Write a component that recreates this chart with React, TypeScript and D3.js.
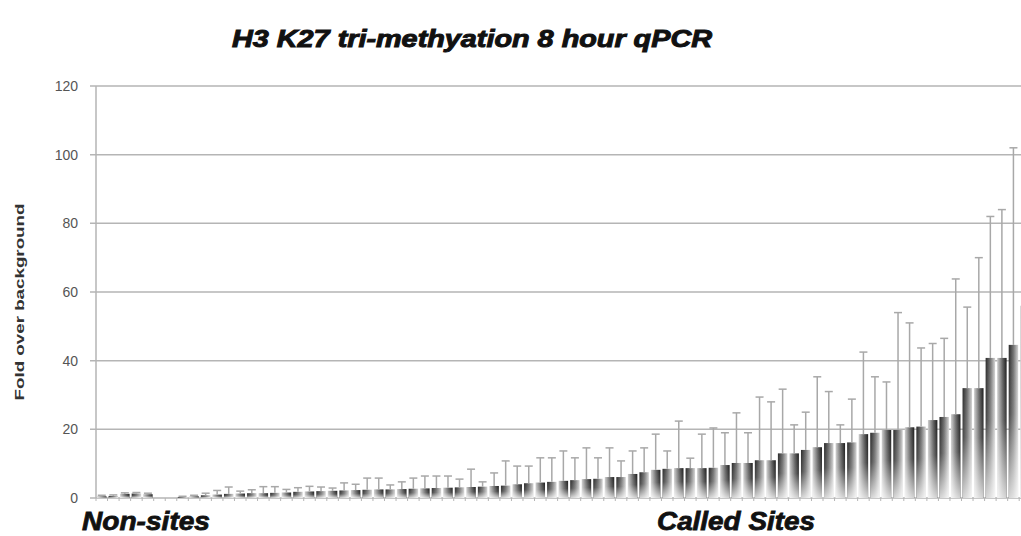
import React from "react";
import * as d3 from "d3";

const title = "H3 K27 tri-methyation 8 hour qPCR";
const yAxisTitle = "Fold over background";
const groupLabels = ["Non-sites", "Called Sites"];
const yTicks = [0, 20, 40, 60, 80, 100, 120];

const nonSiteValues = [0.5, 0.6, 1.2, 1.3, 1.1];
const nonSiteErrors = [0.3, 0.3, 0.3, 0.3, 0.3];
const gapSlots = 2;

const calledValues = [
  0.3, 0.5, 0.8, 1.0, 1.2, 1.3, 1.4, 1.4, 1.5, 1.6,
  1.8, 1.9, 2.0, 2.1, 2.2, 2.3, 2.4, 2.5, 2.5, 2.6,
  2.7, 2.8, 2.9, 3.0, 3.1, 3.2, 3.3, 3.5, 3.6, 4.0,
  4.3, 4.5, 4.7, 5.0, 5.2, 5.5, 5.6, 6.1, 6.1, 7.0,
  7.5, 8.2, 8.5, 8.7, 8.7, 8.7, 8.8, 9.6, 10.2, 10.2,
  11, 11, 13, 13, 14, 14.8, 16, 16, 16.2, 18.6,
  19, 19.8, 19.8, 20.6, 20.8, 22.7, 23.6, 24.4, 32, 32,
  40.8, 40.8, 44.6, 56,
];
const calledErrors = [
  0.2, 0.3, 0.6, 1.2, 2.0, 0.7, 1.0, 1.9, 1.8, 0.9,
  1.2, 1.5, 1.2, 0.8, 2.2, 1.7, 3.4, 3.3, 1.3, 2.1,
  3.1, 3.6, 3.5, 3.4, 2.4, 5.2, 1.4, 3.8, 7.2, 5.3,
  5.0, 7.2, 7.0, 8.7, 6.5, 9.1, 6.1, 8.5, 4.7, 6.7,
  7.1, 10.4, 5.2, 13.7, 2.9, 9.9, 11.6, 9.4, 14.6, 8.8,
  18.4, 17.0, 18.7, 8.3, 11.0, 20.5, 15.0, 5.3, 12.6, 23.9,
  16.3, 14.0, 34.2, 30.4, 22.9, 22.3, 22.9, 39.4, 23.6, 38.0,
  41.2, 43.2, 57.4, 24.0,
];

const W = 1021;
const H = 536;
const left = 96;
const pitch = 11.54;
const top = 86;
const bottom = 498;

export default function App() {
  const slots: { v: number; e: number; idx: number }[] = [];
  nonSiteValues.forEach((v, i) => slots.push({ v, e: nonSiteErrors[i], idx: i }));
  calledValues.forEach((v, i) =>
    slots.push({ v, e: calledErrors[i], idx: nonSiteValues.length + gapSlots + i })
  );
  const nSlots = nonSiteValues.length + gapSlots + calledValues.length;

  const x = d3
    .scaleBand<number>()
    .domain(d3.range(nSlots))
    .range([left, left + nSlots * pitch])
    .paddingInner(0.18)
    .paddingOuter(0.09);
  const y = d3.scaleLinear().domain([0, 120]).range([bottom, top]);

  const bw = x.bandwidth();
  const gridColor = "#b5b5b5";

  return (
    <svg
      width={W}
      height={H}
      style={{ position: "absolute", left: 0, top: 0, background: "#fff", overflow: "hidden" }}
      fontFamily="Liberation Sans, Arial, sans-serif"
    >
      <defs>
        <linearGradient id="gA" x1="0" y1="0" x2="1" y2="0">
          <stop offset="0" stopColor="#d0d0d0" />
          <stop offset="0.55" stopColor="#666" />
          <stop offset="1" stopColor="#1c1c1c" />
        </linearGradient>
        <linearGradient id="gB" x1="0" y1="0" x2="1" y2="0">
          <stop offset="0" stopColor="#2a2a2a" />
          <stop offset="0.5" stopColor="#727272" />
          <stop offset="1" stopColor="#d4d4d4" />
        </linearGradient>
        <linearGradient id="fade" x1="0" y1="0" x2="0" y2="1">
          <stop offset="0" stopColor="#fff" stopOpacity="0" />
          <stop offset="0.45" stopColor="#fff" stopOpacity="0.12" />
          <stop offset="1" stopColor="#fff" stopOpacity="0.8" />
        </linearGradient>
        <clipPath id="clip">
          <rect x={0} y={0} width={W} height={H} />
        </clipPath>
      </defs>
      <rect x={0} y={0} width={W} height={H} fill="#fff" />

      <text
        x={472}
        y={47}
        textAnchor="middle"
        fontSize={24}
        fontWeight="bold"
        fontStyle="italic"
        fill="#111"
        stroke="#111"
        strokeWidth={1}
        textLength={480}
        lengthAdjust="spacingAndGlyphs"
      >
        {title}
      </text>

      {yTicks.map((t) => (
        <g key={t}>
          <line
            x1={left - 6}
            x2={W}
            y1={y(t)}
            y2={y(t)}
            stroke={gridColor}
            strokeWidth={1.5}
          />
          <text x={78} y={y(t) + 5} textAnchor="end" fontSize={14} fill="#555">
            {t}
          </text>
        </g>
      ))}
      <line x1={left} x2={left} y1={top} y2={bottom} stroke={gridColor} strokeWidth={1.5} />

      {d3.range(nSlots + 1).map((i) => (
        <line
          key={"ct" + i}
          x1={left + i * pitch}
          x2={left + i * pitch}
          y1={bottom}
          y2={bottom + 3}
          stroke={gridColor}
          strokeWidth={1}
        />
      ))}

      <g clipPath="url(#clip)">
        {slots.map((s, k) => {
          const bx = x(s.idx)!;
          const cx = bx + bw / 2;
          const yt = y(s.v);
          const ye = y(s.v + s.e);
          return (
            <g key={k}>
              <rect x={bx} y={yt} width={bw} height={bottom - yt} fill={k % 2 ? "url(#gB)" : "url(#gA)"} />
              <rect x={bx} y={yt} width={bw} height={bottom - yt} fill="url(#fade)" />
              <line x1={cx} x2={cx} y1={yt} y2={ye} stroke="#a8a8a8" strokeWidth={1.5} />
              <line x1={cx - 4} x2={cx + 4} y1={ye} y2={ye} stroke="#a8a8a8" strokeWidth={1.5} />
            </g>
          );
        })}
      </g>

      <text
        transform={`translate(24,302) rotate(-90)`}
        textAnchor="middle"
        fontSize={12}
        fontWeight="bold"
        fill="#333"
        textLength={197}
        lengthAdjust="spacingAndGlyphs"
      >
        {yAxisTitle}
      </text>

      <text
        x={82}
        y={530}
        fontSize={26}
        fontWeight="bold"
        fontStyle="italic"
        fill="#111"
        stroke="#111"
        strokeWidth={0.8}
        textLength={128}
        lengthAdjust="spacingAndGlyphs"
      >
        {groupLabels[0]}
      </text>
      <text
        x={657}
        y={530}
        fontSize={26}
        fontWeight="bold"
        fontStyle="italic"
        fill="#111"
        stroke="#111"
        strokeWidth={0.8}
        textLength={158}
        lengthAdjust="spacingAndGlyphs"
      >
        {groupLabels[1]}
      </text>
    </svg>
  );
}
